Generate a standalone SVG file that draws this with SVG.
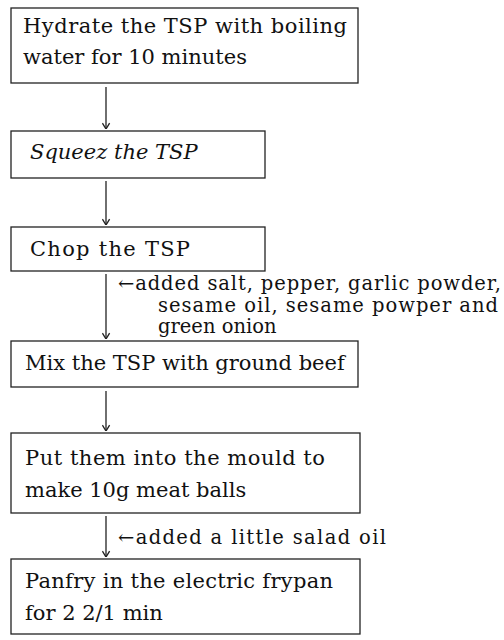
<svg xmlns="http://www.w3.org/2000/svg" width="504" height="640" viewBox="0 0 504 640">
<style>
.box{fill:none;stroke:#222;stroke-width:1.3}
.t{font-family:"DejaVu Serif","Liberation Serif",serif;font-size:21px;fill:#111}
.it{font-style:italic}
.a{font-family:"DejaVu Serif","Liberation Serif",serif;font-size:19.5px;fill:#111}
.c{stroke:#222;stroke-width:1.3;fill:none}
</style>
<defs>
<marker id="ah" viewBox="0 0 10 10" refX="9.5" refY="5" markerWidth="9" markerHeight="9" orient="auto" markerUnits="userSpaceOnUse">
<path d="M3,1 L9.5,5 L3,9" fill="none" stroke="#222" stroke-width="1.5"/>
</marker>
</defs>
<rect width="504" height="640" fill="#fff"/>
<g id="connectors">
<line class="c" x1="106" y1="87" x2="106" y2="129" marker-end="url(#ah)"/>
<line class="c" x1="106" y1="181" x2="106" y2="225" marker-end="url(#ah)"/>
<line class="c" x1="106" y1="274" x2="106" y2="339" marker-end="url(#ah)"/>
<line class="c" x1="106" y1="391" x2="106" y2="431" marker-end="url(#ah)"/>
<line class="c" x1="106" y1="516" x2="106" y2="557" marker-end="url(#ah)"/>
</g>
<g id="n1">
<rect class="box" x="11" y="8" width="347" height="75"/>
<text class="t" x="23" y="33" textLength="324" lengthAdjust="spacing">Hydrate the TSP with boiling</text>
<text class="t" x="23" y="64">water for 10 minutes</text>
</g>
<g id="n2">
<rect class="box" x="11" y="131" width="254" height="47"/>
<text class="t it" x="30" y="159">Squeez the TSP</text>
</g>
<g id="n3">
<rect class="box" x="11" y="227" width="254" height="44"/>
<text class="t" x="30" y="256" textLength="160" lengthAdjust="spacing">Chop the TSP</text>
</g>
<g id="note1">
<text class="a" x="118" y="290" textLength="383" lengthAdjust="spacing">←added salt, pepper, garlic powder,</text>
<text class="a" x="158" y="311.5" textLength="340" lengthAdjust="spacing">sesame oil, sesame powper and</text>
<text class="a" x="158" y="333">green onion</text>
</g>
<g id="n4">
<rect class="box" x="11" y="341" width="347" height="46"/>
<text class="t" x="25" y="370">Mix the TSP with ground beef</text>
</g>
<g id="n5">
<rect class="box" x="11" y="433" width="349" height="80"/>
<text class="t" x="25" y="465" textLength="300" lengthAdjust="spacing">Put them into the mould to</text>
<text class="t" x="25" y="497">make 10g meat balls</text>
</g>
<g id="note2">
<text class="a" x="118" y="544" textLength="268" lengthAdjust="spacing">←added a little salad oil</text>
</g>
<g id="n6">
<rect class="box" x="11" y="559" width="349" height="75"/>
<text class="t" x="25" y="588" textLength="308" lengthAdjust="spacing">Panfry in the electric frypan</text>
<text class="t" x="25" y="620">for 2 2/1 min</text>
</g>
</svg>
